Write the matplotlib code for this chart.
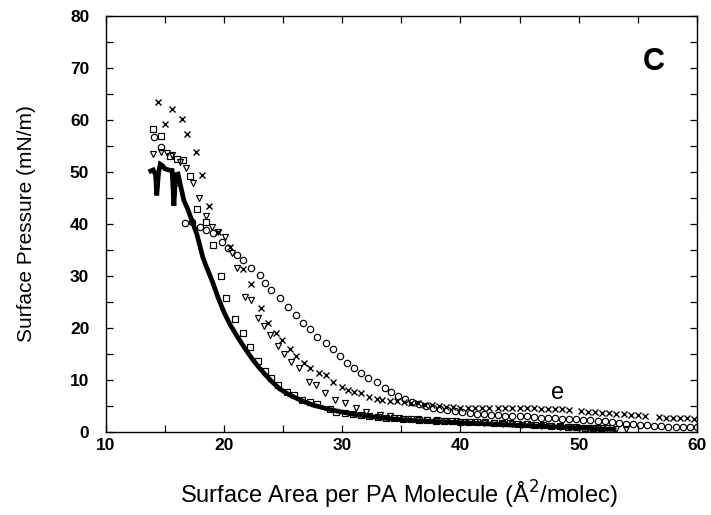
import matplotlib.pyplot as plt
import numpy as np

plt.rcParams['font.family'] = ['Liberation Sans', 'DejaVu Sans']

# solid curve (thick line)
line_x = [13.8, 14.0, 14.2, 14.3, 14.45, 14.6, 14.8, 15.0, 15.3, 15.6, 15.75, 15.9, 16.1,
          16.4, 16.6, 16.9, 17.3, 17.7, 18.2, 18.5, 19.0, 19.5, 20.0, 20.5, 21.0, 21.5,
          22.0, 22.5, 23.0, 23.5, 24.0, 24.7, 25.5, 26.4, 27.5, 29.2, 31.0, 33.4, 36.0,
          39.0, 42.0, 45.0, 48.0, 51.0, 53.0]
line_y = [50.2, 50.4, 49.5, 45.5, 49.8, 51.5, 51.2, 50.6, 50.4, 50.3, 43.5, 49.5, 49.6,
          46.5, 44.5, 43.0, 40.5, 38.0, 33.6, 31.8, 29.0, 25.8, 23.0, 20.7, 18.8, 17.0,
          15.3, 13.7, 12.3, 11.0, 9.8, 8.3, 7.2, 6.2, 5.2, 4.2, 3.4, 2.7, 2.2,
          1.9, 1.6, 1.3, 1.0, 0.7, 0.5]

# open circles
circ_x = [14.1, 14.7, 16.0, 16.7, 17.3, 17.95, 18.5, 19.05, 19.8, 20.3, 21.1, 21.6, 22.3,
          23.0, 23.5, 24.0, 24.7, 25.4, 26.1, 26.7, 27.3, 27.9, 28.6, 29.2, 29.8, 30.4,
          31.0, 31.6, 32.2, 32.9, 33.6, 34.1, 34.7, 35.3, 35.9, 36.5, 37.1, 37.7, 38.3,
          38.9, 39.5, 40.1, 40.8, 41.4, 42.0, 42.6, 43.2, 43.8, 44.4, 45.0, 45.6, 46.2,
          46.8, 47.4, 48.0, 48.6, 49.2, 49.8, 50.4, 51.0, 51.6, 52.2, 52.8, 53.4, 54.0,
          54.6, 55.2, 55.8, 56.4, 57.0, 57.6, 58.2, 58.8, 59.4, 60.0]
circ_y = [56.7, 54.8, 48.0, 40.2, 40.4, 39.4, 38.8, 38.2, 36.6, 35.3, 34.0, 33.0, 31.5,
          30.2, 28.6, 27.3, 25.7, 24.0, 22.5, 21.0, 19.8, 18.3, 17.1, 16.0, 14.6, 13.2,
          12.3, 11.3, 10.4, 9.6, 8.5, 7.7, 6.9, 6.3, 5.8, 5.4, 5.0, 4.7, 4.4,
          4.2, 4.0, 3.8, 3.6, 3.5, 3.4, 3.3, 3.2, 3.1, 3.1, 3.0, 3.0, 2.9,
          2.8, 2.8, 2.7, 2.6, 2.6, 2.5, 2.4, 2.3, 2.2, 2.1, 1.9, 1.8, 1.6,
          1.5, 1.4, 1.3, 1.2, 1.1, 1.0, 1.0, 0.9, 0.9, 0.9]

# crosses
cross_x = [14.4, 15.0, 15.6, 16.4, 16.9, 17.6, 18.1, 18.7, 19.5, 20.5, 21.6, 22.3, 23.1,
           23.7, 24.4, 24.9, 25.6, 26.1, 26.8, 27.3, 28.0, 28.6, 29.2, 30.0, 30.5, 31.0,
           31.6, 32.3, 32.9, 33.4, 34.0, 34.6, 35.2, 35.8, 36.4, 37.0, 37.6, 38.2, 38.8,
           39.4, 40.0, 40.6, 41.2, 41.8, 42.4, 43.2, 43.8, 44.4, 45.0, 45.6, 46.2, 46.8,
           47.4, 48.0, 48.6, 49.2, 50.2, 50.8, 51.4, 52.0, 52.6, 53.2, 53.8, 54.4, 55.0,
           55.6, 56.8, 57.4, 58.0, 58.6, 59.2, 59.8]
cross_y = [63.4, 59.2, 62.1, 60.2, 57.3, 53.8, 49.4, 43.5, 38.5, 35.6, 31.3, 28.5, 23.9,
           21.0, 19.0, 17.7, 16.0, 14.6, 13.2, 12.3, 11.3, 11.0, 9.6, 8.7, 8.0, 7.7,
           7.5, 6.7, 6.3, 6.2, 6.0, 5.9, 5.8, 5.6, 5.5, 5.3, 5.2, 5.0, 4.9,
           4.8, 4.7, 4.7, 4.6, 4.6, 4.6, 4.6, 4.6, 4.6, 4.6, 4.6, 4.6, 4.5,
           4.5, 4.4, 4.4, 4.3, 4.0, 3.9, 3.8, 3.7, 3.6, 3.5, 3.4, 3.3, 3.2,
           3.1, 2.9, 2.8, 2.8, 2.7, 2.7, 2.6]

# open down-triangles
tri_x = [14.0, 14.7, 15.2, 15.6, 16.3, 16.8, 17.4, 17.9, 18.5, 19.0, 19.5, 20.1, 20.7,
         21.1, 21.8, 22.3, 22.9, 23.4, 23.9, 24.6, 25.1, 25.7, 26.3, 27.2, 27.8, 28.5,
         29.4, 30.2, 31.2, 32.0, 33.2, 34.0, 34.8, 35.6, 36.4, 37.2, 38.0, 38.8, 39.6,
         40.4, 41.2, 42.0, 42.8, 43.6, 44.4, 45.2, 46.0, 46.8, 47.6, 48.4, 49.2, 50.0,
         50.8, 51.6, 52.4, 53.2, 54.0]
tri_y = [53.5, 53.9, 53.6, 53.2, 51.9, 50.7, 47.8, 45.0, 41.5, 39.4, 38.5, 37.5, 34.4,
         31.5, 26.0, 25.4, 22.0, 20.4, 18.7, 16.5, 15.0, 13.5, 12.3, 9.6, 9.0, 7.5,
         6.2, 5.6, 4.6, 3.8, 3.3, 3.0, 2.8, 2.6, 2.5, 2.4, 2.3, 2.2, 2.1,
         2.0, 1.9, 1.8, 1.7, 1.6, 1.5, 1.4, 1.3, 1.2, 1.1, 1.0, 0.9, 0.8,
         0.8, 0.7, 0.7, 0.6, 0.6]

# open squares
sq_x = [14.0, 14.7, 15.4, 16.0, 16.5, 17.1, 17.7, 18.5, 19.05, 19.7, 20.2, 20.9, 21.6,
        22.2, 22.9, 23.5, 24.0, 24.6, 25.3, 25.9, 26.6, 27.3, 27.9, 29.0, 29.5, 30.2,
        30.9, 31.6, 32.3, 33.0, 33.7, 34.4, 35.1, 35.8, 36.5, 37.2, 37.9, 38.6, 39.3,
        40.0, 40.7, 41.4, 42.1, 42.8, 43.5, 44.2, 44.9, 45.6, 46.3, 47.0, 47.7, 48.4,
        49.1, 49.8, 50.5, 51.2, 51.9]
sq_y = [58.2, 57.0, 53.0, 52.5, 52.3, 49.2, 42.9, 40.4, 36.0, 30.0, 25.8, 21.7, 19.0,
        16.4, 13.7, 11.7, 10.4, 9.0, 7.7, 7.1, 6.2, 5.8, 5.4, 4.4, 3.8, 3.6,
        3.4, 3.2, 3.0, 2.9, 2.8, 2.7, 2.6, 2.5, 2.4, 2.3, 2.2, 2.1, 2.1,
        2.0, 2.0, 1.9, 1.9, 1.8, 1.8, 1.7, 1.6, 1.5, 1.4, 1.3, 1.2, 1.1,
        1.0, 0.9, 0.8, 0.8, 0.7]

fig = plt.figure(figsize=(7.11, 5.15), dpi=100)
ax = fig.add_axes([0.149, 0.161, 0.831, 0.808])

ax.plot(line_x, line_y, color='black', lw=3.4, solid_joinstyle='miter', zorder=3)
mk = dict(linestyle='none', markerfacecolor='none', markeredgecolor='black', markeredgewidth=0.85)
ax.plot(circ_x, circ_y, marker='o', markersize=4.6, **mk)
ax.plot(sq_x, sq_y, marker='s', markersize=4.8, **mk)
ax.plot(tri_x, tri_y, marker='v', markersize=4.9, **mk)
ax.plot(cross_x, cross_y, marker='x', markersize=4.4, linestyle='none', color='black', markeredgewidth=1.0)

ax.set_xlim(10, 60)
ax.set_ylim(0, 80)
ax.set_xticks(np.arange(10, 61, 10))
ax.set_xticks(np.arange(15, 60, 10), minor=True)
ax.set_yticks(np.arange(0, 81, 10))
ax.set_yticks(np.arange(5, 80, 10), minor=True)
ax.tick_params(which='both', direction='in', top=True, right=True, width=0.9, length=5)
ax.tick_params(axis='x', which='major', pad=4, labelsize=12.5)
ax.tick_params(axis='y', which='major', pad=12, labelsize=12.5)
for lab in ax.get_xticklabels() + ax.get_yticklabels():
    lab.set_fontweight('bold')
for s in ax.spines.values():
    s.set_linewidth(1.0)

ax.set_xlabel('Surface Area per PA Molecule (Å$^2$/molec)', fontsize=17)
ax.set_ylabel('Surface Pressure (mN/m)', fontsize=15)
ax.xaxis.set_label_coords(0.495, -0.112)
ax.yaxis.set_label_coords(-0.118, 0.5)

ax.text(56.4, 71.2, 'C', fontsize=22, fontweight='bold', ha='center', va='center')
ax.text(48.2, 7.6, 'e', fontsize=17, ha='center', va='center')

fig.savefig('out.png', dpi=100)
